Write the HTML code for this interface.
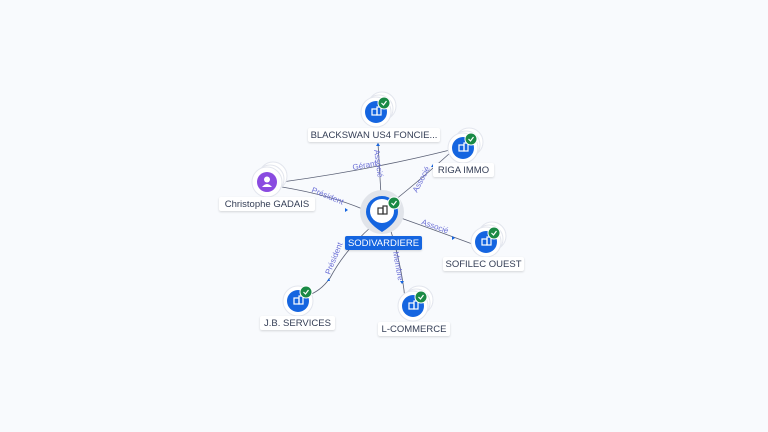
<!DOCTYPE html>
<html><head><meta charset="utf-8"><style>
body{margin:0;width:768px;height:432px;background:#f8fafd;overflow:hidden;font-family:"Liberation Sans",sans-serif}
.lb{position:absolute;background:#fff;color:#333d55;font-size:9.5px;height:14px;line-height:15px;text-align:center;border-radius:2px;box-shadow:0 1px 2px rgba(0,0,0,.15)}
</style></head><body>
<svg width="768" height="432" style="position:absolute;left:0;top:0" font-family="Liberation Sans, sans-serif">
<defs>
<g id="bld"><rect x="-4" y="-3" width="5" height="6" fill="none" stroke="#fff" stroke-width="1.2"/><rect x="1" y="-5" width="4" height="8" fill="none" stroke="#fff" stroke-width="1.2"/></g>
<g id="node">
<circle cx="6" cy="-6" r="14" fill="#fff" stroke="#e3e6ee"/><circle cx="3" cy="-3" r="14" fill="#fff" stroke="#e3e6ee"/>
<circle r="15" fill="#fff" stroke="#e3e6ee"/><circle r="11" fill="#1565e0"/><use href="#bld"/>
<circle cx="8" cy="-9" r="6" fill="#1a8a45" stroke="#fff"/><path d="M5.5,-9 l2,2 l3,-4" stroke="#fff" fill="none" stroke-width="1.2"/>
</g>
</defs>
<g stroke="#5a6075" stroke-width="0.8" fill="none">
<path d="M381,195 L378,143"/>
<path d="M395,200 Q420,180 450,153"/>
<path d="M398,217 Q440,232 475,245"/>
<path d="M390,228 Q400,260 404,290 Q404,296 408,300"/>
<path d="M372,226 Q345,250 330,278 Q320,292 306,296"/>
<path d="M282,187 Q330,195 365,210"/>
<path d="M282,182 Q370,170 450,150"/>
</g>
<g fill="#6b6fd6" font-size="8">
<text transform="translate(374,150) rotate(82)">Associé</text>
<text transform="translate(417,193) rotate(-62)">Associé</text>
<text transform="translate(421,224) rotate(20)">Associé</text>
<text transform="translate(393,252) rotate(80)">Membre</text>
<text transform="translate(330,275) rotate(-68)">Président</text>
<text transform="translate(311,192) rotate(22)">Président</text>
<text transform="translate(353,170) rotate(-10)">Gérant</text>
</g>
<g fill="#1565e0"><path d="M378,143 l-2,3 h4z"/><path d="M433,164 l-2,3 h4z"/><path d="M452,236 l3,2 l-3,2z"/><path d="M345,208 l3,2 l-3,2z"/><path d="M402,284 l-2,-3 h4z"/><path d="M329,278 l-2,3 h3z"/></g>
<use href="#node" x="376" y="112"/>
<use href="#node" x="463" y="148"/>
<use href="#node" x="486" y="242"/>
<use href="#node" x="413" y="306"/>
<g transform="translate(298,301)"><circle r="15" fill="#fff" stroke="#e3e6ee"/><circle r="11" fill="#1565e0"/><use href="#bld"/><circle cx="8" cy="-9" r="6" fill="#1a8a45" stroke="#fff"/><path d="M5.5,-9 l2,2 l3,-4" stroke="#fff" fill="none" stroke-width="1.2"/></g>
<g transform="translate(267,182)"><circle cx="6" cy="-6" r="14" fill="#fff" stroke="#e3e6ee"/><circle cx="3" cy="-3" r="14" fill="#fff" stroke="#e3e6ee"/><circle r="15" fill="#fff" stroke="#e3e6ee"/><circle r="10" fill="#8a4be0"/><circle cy="-2.5" r="3" fill="#fff"/><path d="M-5,5 q5,-6 10,0z" fill="#fff"/></g>
<circle cx="382" cy="212" r="22" fill="#e1e4ea"/>
<path d="M366,212 a16,16 0 1 1 32,0 q0,10 -16,20 q-16,-10 -16,-20z" fill="#1565e0"/>
<circle cx="382" cy="211" r="12" fill="#fff"/>
<g transform="translate(382,211)"><rect x="-4" y="-3" width="5" height="6" fill="none" stroke="#333" stroke-width="1.2"/><rect x="1" y="-5" width="4" height="8" fill="none" stroke="#333" stroke-width="1.2"/></g>
<circle cx="394" cy="203" r="6" fill="#1a8a45" stroke="#fff"/><path d="M391.5,203 l2,2 l3,-4" stroke="#fff" fill="none" stroke-width="1.2"/>
</svg>
<div class="lb" style="left:308px;top:128px;width:132px">BLACKSWAN US4 FONCIE...</div>
<div class="lb" style="left:433px;top:163px;width:61px">RIGA IMMO</div>
<div class="lb" style="left:219px;top:197px;width:96px">Christophe GADAIS</div>
<div class="lb" style="left:443px;top:257px;width:81px">SOFILEC OUEST</div>
<div class="lb" style="left:260px;top:316px;width:75px">J.B. SERVICES</div>
<div class="lb" style="left:378px;top:322px;width:72px">L-COMMERCE</div>
<div class="lb" style="left:345px;top:236px;width:77px;background:#1565e0;color:#fff">SODIVARDIERE</div>
</body></html>
